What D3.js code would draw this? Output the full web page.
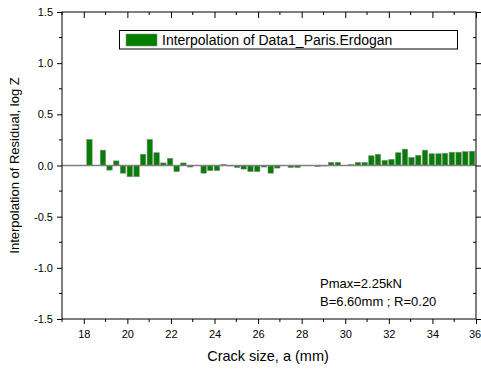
<!DOCTYPE html>
<html>
<head>
<meta charset="utf-8">
<script src="https://cdn.jsdelivr.net/npm/d3@7/dist/d3.min.js"></script>
<style>
  html, body { margin: 0; padding: 0; background: #fff; }
  svg { display: block; font-family: "Liberation Sans", Arial, sans-serif; }
</style>
</head>
<body>
<svg id="chart" width="481" height="371"></svg>
<script>
// Crack size positions (mm)
const crackSize = [
  18.26, 18.57, 18.88, 19.18, 19.49, 19.80, 20.11, 20.42, 20.72, 21.03,
  21.34, 21.65, 21.96, 22.26, 22.57, 22.88, 23.19, 23.50, 23.80, 24.11,
  24.42, 24.73, 25.04, 25.34, 25.65, 25.96, 26.27, 26.58, 26.88, 27.19,
  27.50, 27.81, 28.12, 28.42, 28.73, 29.04, 29.35, 29.66, 29.96, 30.27,
  30.58, 30.89, 31.20, 31.50, 31.81, 32.12, 32.43, 32.74, 33.04, 33.35,
  33.66, 33.97, 34.28, 34.58, 34.89, 35.20, 35.51, 35.82
];
// Interpolated residual, log Z
const residual = [
  0.255, 0.000, 0.150, -0.045, 0.045, -0.075, -0.110, -0.110, 0.110, 0.255,
  0.125, 0.025, 0.070, -0.060, 0.025, -0.015, 0.000, -0.075, -0.050, -0.050,
  0.010, -0.005, -0.020, -0.035, -0.060, -0.060, -0.015, -0.075, -0.025, 0.000,
  -0.020, -0.020, 0.000, 0.000, -0.010, -0.005, 0.030, 0.030, 0.000, 0.010,
  0.030, 0.030, 0.095, 0.110, 0.050, 0.060, 0.125, 0.160, 0.080, 0.100,
  0.150, 0.115, 0.115, 0.120, 0.130, 0.130, 0.135, 0.140
];
const xMajorTicks = [18, 20, 22, 24, 26, 28, 30, 32, 34, 36];
const xMinorTicks = [17, 19, 21, 23, 25, 27, 29, 31, 33, 35];
const yMajorTicks = [-1.5, -1.0, -0.5, 0.0, 0.5, 1.0, 1.5];
const yMinorTicks = [-1.25, -0.75, -0.25, 0.25, 0.75, 1.25];
const legendLabel = "Interpolation of Data1_Paris.Erdogan";
const notes = ["Pmax=2.25kN", "B=6.60mm ; R=0.20"];
const barWidthMM = 0.25;

const svg = d3.select("#chart");
const plotL = 62, plotR = 476, plotT = 12, plotB = 319;

const x = d3.scaleLinear().domain([17, 36]).range([plotL, plotR]);
const y = d3.scaleLinear().domain([-1.5, 1.5]).range([plotB, plotT]);

// Bars
const bw = x(17 + barWidthMM) - x(17);
svg.append("g").selectAll("rect")
  .data(crackSize.map((c, i) => ({ c, v: residual[i] })))
  .join("rect")
  .attr("x", d => x(d.c) - bw / 2)
  .attr("y", d => y(Math.max(0, d.v)))
  .attr("width", bw)
  .attr("height", d => Math.abs(y(d.v) - y(0)))
  .attr("fill", "#007f00")
  .attr("stroke", "#8a8a8a")
  .attr("stroke-width", 0.6);

// Zero line
svg.append("line")
  .attr("x1", plotL).attr("x2", plotR)
  .attr("y1", y(0)).attr("y2", y(0))
  .attr("stroke", "#808080").attr("stroke-width", 1.5);

// Axes: outward ticks on bottom/left, inward mirrored ticks on top/right
const fmtY = d => d.toFixed(1);
function addAxis(axisGen, transform, major, minor, labels, minorFn) {
  const g = svg.append("g").attr("transform", transform);
  g.call(axisGen.tickValues(major).tickSizeOuter(0));
  g.select(".domain").remove();
  g.selectAll(".tick line").attr("stroke", "#000");
  if (!labels) g.selectAll(".tick text").remove();
  else g.selectAll(".tick text").attr("font-size", 11)
        .attr("font-family", "Liberation Sans, Arial, sans-serif").attr("fill", "#000");
  minorFn(g, minor);
  return g;
}

const xAxisG = addAxis(d3.axisBottom(x).tickSize(5).tickPadding(6).tickFormat(d3.format("d")),
  `translate(0,${plotB})`, xMajorTicks, xMinorTicks, true,
  (g, m) => g.selectAll(".mn").data(m).join("line")
    .attr("x1", d => x(d)).attr("x2", d => x(d)).attr("y1", 0).attr("y2", 3).attr("stroke", "#000"));
// keep the last label inside the page edge
xAxisG.selectAll(".tick text").filter(d => d === 36).attr("dx", -1.5);

addAxis(d3.axisBottom(x).tickSize(6),
  `translate(0,${plotT})`, xMajorTicks, xMinorTicks, false,
  (g, m) => g.selectAll(".mn").data(m).join("line")
    .attr("x1", d => x(d)).attr("x2", d => x(d)).attr("y1", 0).attr("y2", 3).attr("stroke", "#000"));
addAxis(d3.axisLeft(y).tickSize(5).tickPadding(4).tickFormat(fmtY),
  `translate(${plotL},0)`, yMajorTicks, yMinorTicks, true,
  (g, m) => g.selectAll(".mn").data(m).join("line")
    .attr("y1", d => y(d)).attr("y2", d => y(d)).attr("x1", 0).attr("x2", -3).attr("stroke", "#000"));
addAxis(d3.axisLeft(y).tickSize(-6),
  `translate(${plotR},0)`, yMajorTicks, yMinorTicks, false,
  (g, m) => g.selectAll(".mn").data(m).join("line")
    .attr("y1", d => y(d)).attr("y2", d => y(d)).attr("x1", 0).attr("x2", -3).attr("stroke", "#000"));

// Plot frame
svg.append("rect")
  .attr("x", plotL).attr("y", plotT)
  .attr("width", plotR - plotL).attr("height", plotB - plotT)
  .attr("fill", "none").attr("stroke", "#000").attr("stroke-width", 1);

// Axis titles
svg.append("text")
  .attr("x", 268).attr("y", 361)
  .attr("text-anchor", "middle").attr("font-size", 14.5)
  .text("Crack size, a (mm)");
svg.append("text")
  .attr("transform", `translate(19,${(plotT + plotB) / 2}) rotate(-90)`)
  .attr("text-anchor", "middle").attr("font-size", 13)
  .text("Interpolation of Residual, log Z");

// Legend
const lg = svg.append("g");
lg.append("rect").attr("x", 119.5).attr("y", 30.5).attr("width", 338).attr("height", 18.5)
  .attr("fill", "#fff").attr("stroke", "#000").attr("stroke-width", 1);
lg.append("rect").attr("x", 126).attr("y", 34).attr("width", 31).attr("height", 12)
  .attr("fill", "#007f00").attr("stroke", "#8a8a8a").attr("stroke-width", 0.6);
lg.append("text").attr("x", 162).attr("y", 45).attr("font-size", 14).text(legendLabel);

// Test conditions
svg.append("g").selectAll("text").data(notes).join("text")
  .attr("x", 320).attr("y", (d, i) => 288 + i * 18)
  .attr("font-size", 13).text(d => d);
</script>
</body>
</html>
